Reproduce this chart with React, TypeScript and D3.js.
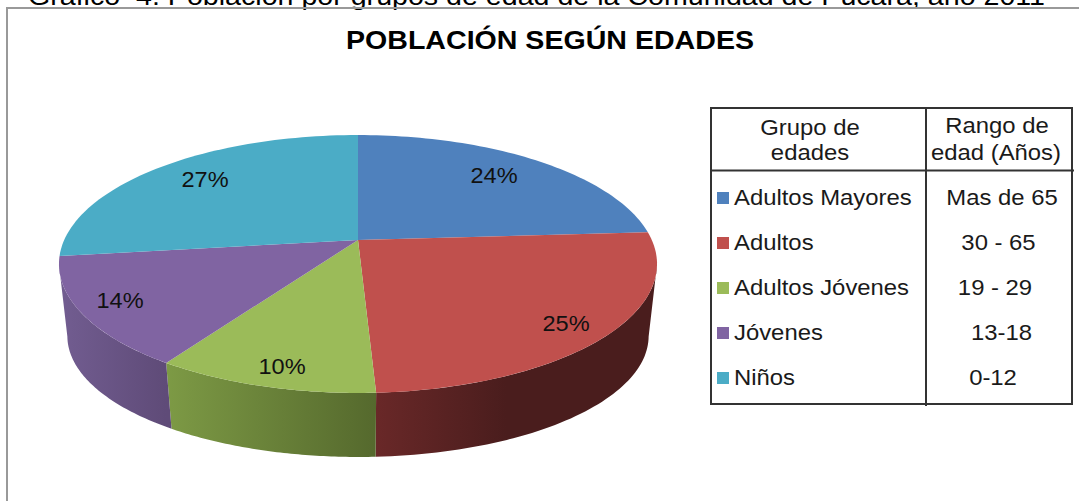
import React from "react";
import * as d3 from "d3";

const categories = ["Adultos Mayores", "Adultos", "Adultos Jóvenes", "Jóvenes", "Niños"];
const shares = [24, 25.2, 10.1, 13.7, 27];
const ranges = ["Mas de 65", "30 - 65", "19 - 29", "13-18", "0-12"];
const topColors = ["#4f81bd", "#c0504d", "#9bbb59", "#8064a2", "#4bacc6"];
const wallFrom = ["#3a5f8a", "#692828", "#7d9a45", "#725d91", "#37809a"];
const wallTo = ["#2b4a6e", "#4a1d1d", "#55692d", "#5f4b78", "#2a6478"];

const rangeX = [1002, 998.5, 995, 1001.5, 993];
const labelPos = [[494, 175], [566, 323], [282, 366], [120, 300], [205, 179]];

const cx = 358, cy = 240, A = 293.8, B = 124.5, K = 0.186;

// perspective projection of the pie's top disc
const proj = (a: number): [number, number] => {
  const u = Math.sin(a), v = -Math.cos(a), w = 1 - K * v;
  return [cx + (A * u) / w, cy + (B * v) / w];
};
// matching point on the lower rim of the disc
const projLow = (a: number): [number, number] => {
  const [x, y] = proj(a);
  return [cx + (x - cx) * 0.972, 336 + (y - 264) * (121 / 129)];
};
const samples = (a0: number, a1: number) =>
  d3.range(0, 61).map((i) => a0 + ((a1 - a0) * i) / 60);

const line = d3.line();
const deg = (d: number) => (d * Math.PI) / 180;
const VIS0 = deg(101), VIS1 = deg(259);

// horizontally stretched text, as in the reference
const Wide = ({ x, y, anchor, sx = 1.085, children }: any) => (
  <text transform={`translate(${x},${y}) scale(${sx},1)`} textAnchor={anchor}>{children}</text>
);

export default function App() {
  const arcs = d3.pie<number>().sort(null).startAngle(0).endAngle(2 * Math.PI)(shares);
  const font = "'Liberation Sans', Arial, sans-serif";
  const rows = d3.scalePoint<number>().domain(d3.range(5)).range([205, 385]);
  return (
    <svg width={1079} height={501} style={{ position: "absolute", left: 0, top: 0, background: "#fff" }} fontFamily={font}>
      <defs>
        {arcs.map((s, i) => {
          const a0 = Math.max(s.startAngle, VIS0), a1 = Math.min(s.endAngle, VIS1);
          const xs = a1 > a0 ? [proj(a1)[0], proj(a0)[0]] : [0, 1];
          const endX = i === 1 ? xs[0] + 130 : xs[1];
          return (
            <linearGradient key={i} id={`w${i}`} gradientUnits="userSpaceOnUse" x1={xs[0]} x2={endX} y1={0} y2={0}>
              <stop offset="0" stopColor={wallFrom[i]} />
              <stop offset="1" stopColor={wallTo[i]} />
            </linearGradient>
          );
        })}
      </defs>

      <text x={28} y={5} fontSize={25} textLength={1017} lengthAdjust="spacingAndGlyphs">
        {"Gráfico\u00a0\u00a04. Población por grupos de edad de la Comunidad de Pucará, año 2011"}
      </text>
      <path d="M7 501V8H1079" fill="none" stroke="#999" strokeWidth={2} />
      <text x={550} y={49} fontSize={25.5} fontWeight="bold" textAnchor="middle" textLength={408} lengthAdjust="spacingAndGlyphs">
        POBLACIÓN SEGÚN EDADES
      </text>

      {/* side walls */}
      {arcs.map((s, i) => {
        const a0 = Math.max(s.startAngle, VIS0), a1 = Math.min(s.endAngle, VIS1);
        if (a1 <= a0) return null;
        const pts = samples(a0, a1);
        const d = line([...pts.map(proj), ...pts.slice().reverse().map(projLow)]) + "Z";
        return <path key={i} d={d} fill={`url(#w${i})`} />;
      })}
      {/* top surface */}
      {arcs.map((s, i) => {
        const d = line([[cx, cy], ...samples(s.startAngle, s.endAngle).map(proj)]) + "Z";
        return <path key={i} d={d} fill={topColors[i]} />;
      })}
      <g fontSize={22} fill="#111">
        {arcs.map((s, i) => (
          <Wide key={i} x={labelPos[i][0]} y={labelPos[i][1] + 8} anchor="middle" sx={1.07}>
            {`${Math.round(s.data)}%`}
          </Wide>
        ))}
      </g>

      {/* table */}
      <g stroke="#333" strokeWidth={2} fill="none">
        <rect x={711} y={108} width={361} height={296} />
        <path d="M926 108V406M711 170.500H1074" />
      </g>
      <g fontSize={22} fill="#1a1a1a">
        <Wide x={810} y={135} anchor="middle">Grupo de</Wide>
        <Wide x={810} y={160} anchor="middle">edades</Wide>
        <Wide x={997} y={133} anchor="middle">Rango de</Wide>
        <Wide x={996} y={160} anchor="middle">edad (Años)</Wide>
        {categories.map((c, i) => (
          <g key={c}>
            <rect x={717} y={rows(i)! - 13} width={12} height={12} fill={topColors[i]} />
            <Wide x={734} y={rows(i)!}>{c}</Wide>
            <Wide x={rangeX[i]} y={rows(i)!} anchor="middle">{ranges[i]}</Wide>
          </g>
        ))}
      </g>
    </svg>
  );
}
